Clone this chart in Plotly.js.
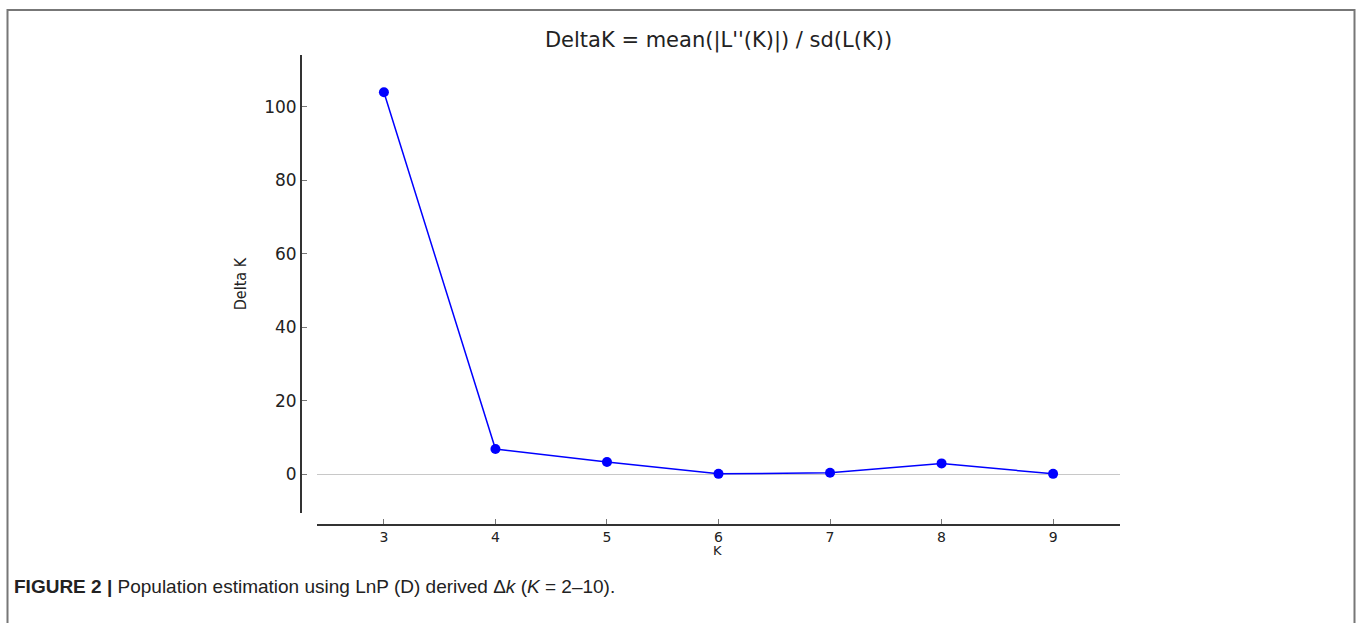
<!DOCTYPE html>
<html>
<head>
<meta charset="utf-8">
<script src="https://cdn.plot.ly/plotly-3.0.1.min.js"></script>
<style>
html,body{margin:0;padding:0;background:#fff;}
#chart{width:1358px;height:623px;}
</style>
</head>
<body>
<div id="chart"></div>
<script>
// Data
const kValues = [3, 4, 5, 6, 7, 8, 9];
const deltaK = [103.9, 6.8, 3.3, 0.05, 0.35, 2.9, 0.05];
const xTickVals = [3, 4, 5, 6, 7, 8, 9];
const yTickVals = [0, 20, 40, 60, 80, 100];

const W = 1358, H = 623;
const mL = 300, mR = 238, mT = 55, mB = 99;
const pw = W - mL - mR, ph = H - mT - mB;
const px = x => (x - mL) / pw;          // page x -> paper
const py = y => (H - mB - y) / ph;      // page y -> paper

const trace = {
  x: kValues, y: deltaK, type: 'scatter', mode: 'lines+markers',
  line: {color: '#0000ff', width: 1.5},
  marker: {color: '#0000ff', size: 10},
  hoverinfo: 'x+y'
};

const layout = {
  width: W, height: H,
  margin: {l: mL, r: mR, t: mT, b: mB, pad: 0},
  paper_bgcolor: '#ffffff', plot_bgcolor: '#ffffff',
  showlegend: false,
  title: {
    text: "DeltaK = mean(|L''(K)|) / sd(L(K))",
    font: {family: 'DejaVu Sans', size: 21, color: '#222'},
    x: px(718.5), xref: 'paper', xanchor: 'center',
    y: 1 - 40 / H, yref: 'container', yanchor: 'middle'
  },
  xaxis: {
    domain: [px(317), 1], anchor: 'free', position: 0,
    range: [2.4, 9.6], tickvals: xTickVals,
    showline: true, linecolor: '#333', linewidth: 1.5,
    ticks: 'inside', ticklen: 5, tickcolor: '#777', tickwidth: 1,
    showgrid: false, zeroline: false,
    tickfont: {family: 'DejaVu Sans', size: 14, color: '#222'}
  },
  yaxis: {
    domain: [py(513), 1], anchor: 'free', position: 0,
    range: [-10.6, 114.06], tickvals: yTickVals,
    showline: true, linecolor: '#333', linewidth: 1.5,
    ticks: 'inside', ticklen: 5, tickcolor: '#777', tickwidth: 1,
    showgrid: false,
    zeroline: true, zerolinecolor: '#c8c8c8', zerolinewidth: 1,
    tickfont: {family: 'DejaVu Sans', size: 17, color: '#222'},
    title: {text: 'Delta K', font: {family: 'DejaVu Sans Condensed, DejaVu Sans', size: 16, color: '#222'}, standoff: 12}
  },
  shapes: [{
    type: 'rect', xref: 'paper', yref: 'paper', layer: 'below',
    x0: px(7.5), x1: px(1354.5), y0: py(10), y1: py(640),
    line: {color: '#777', width: 2}, fillcolor: 'rgba(0,0,0,0)'
  }],
  annotations: [{
    xref: 'paper', yref: 'paper', x: px(717), y: py(550),
    xanchor: 'center', yanchor: 'middle', showarrow: false,
    text: 'K',
    font: {family: 'DejaVu Sans', size: 13, color: '#222'}
  }, {
    xref: 'paper', yref: 'paper', x: px(12), y: py(586),
    xanchor: 'left', yanchor: 'middle', showarrow: false,
    text: '<b>FIGURE 2 |</b> Population estimation using LnP (D) derived Δ<i>k</i> (<i>K</i> = 2–10).',
    font: {family: 'Liberation Sans, Arial', size: 19, color: '#222'}
  }]
};

Plotly.newPlot('chart', [trace], layout, {displayModeBar: false, staticPlot: true});
</script>
</body>
</html>
